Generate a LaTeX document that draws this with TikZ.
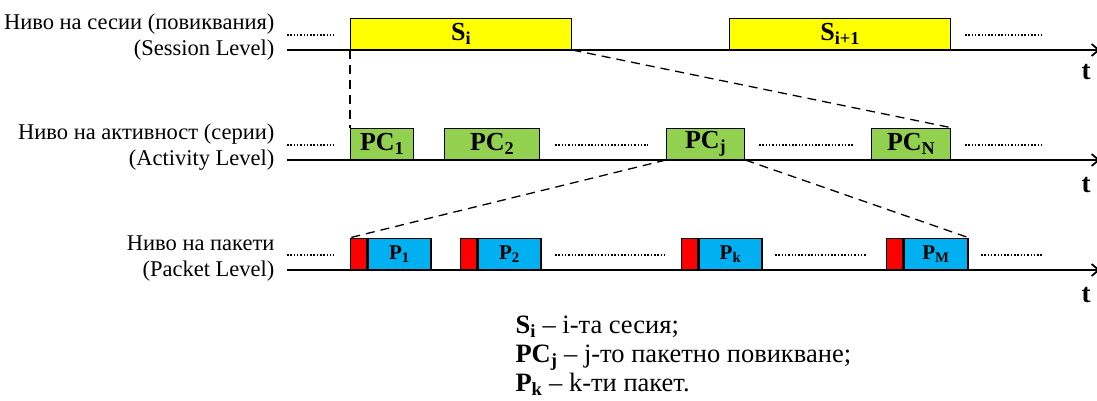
\documentclass[tikz,border=0pt]{standalone}
\usepackage{fontspec}
\setmainfont{Liberation Serif}
\usetikzlibrary{arrows.meta}
\definecolor{sessfill}{RGB}{255,255,0}
\definecolor{actfill}{RGB}{146,208,80}
\definecolor{pktfill}{RGB}{0,176,240}
\definecolor{hdrfill}{RGB}{255,0,0}
\tikzset{
  x=1pt, y=-1pt,
  box/.style={draw=black, line width=1.3pt, inner sep=0pt, anchor=south west,
    font=\fontsize{26}{26}\selectfont\bfseries},
  sessbox/.style={box, fill=sessfill, minimum height=31pt},
  actbox/.style={box, fill=actfill, minimum height=31pt},
  pktbox/.style={box, fill=pktfill, minimum height=31pt, minimum width=63pt,
    font=\fontsize{21}{21}\selectfont\bfseries},
  hdrbox/.style={box, fill=hdrfill, minimum height=31pt, minimum width=16pt},
  axis/.style={line width=1.8pt, -{Straight Barb[length=7pt,width=12pt]}},
  gap/.style={line width=1.2pt, dash pattern=on 1.5pt off 1.8pt},
  zoomline/.style={line width=1.3pt, dash pattern=on 9pt off 6pt},
  lvl/.style={anchor=east, align=right, font=\fontsize{22.5}{26}\selectfont},
  tlabel/.style={font=\fontsize{27}{27}\selectfont\bfseries, anchor=base},
  legend/.style={anchor=base west, font=\fontsize{26.5}{29}\selectfont}
}
\newcommand{\lab}[2]{#1\textsubscript{#2}}
\begin{document}
\begin{tikzpicture}
\useasboundingbox (0,0) rectangle (1097,401);

% ---- session level ----
\node[lvl] (lvS) at (278,37) {Ниво на сесии (повиквания)\\(Session Level)};
\coordinate (aS0) at (287,50);
\coordinate (aS1) at (1100,50);
\draw[axis] (aS0) -- (aS1);
\node[sessbox, minimum width=221pt] (Si) at (350,50) {\lab{S}{i}};
\node[sessbox, minimum width=221pt] (Si1) at (729,50) {\lab{S}{i+1}};
\coordinate (dS0a) at (287,35); \coordinate (dS0b) at (334,35);
\coordinate (dS1a) at (965,35); \coordinate (dS1b) at (1043,35);
\draw[gap] (dS0a) -- (dS0b);
\draw[gap] (dS1a) -- (dS1b);
\node[tlabel] (tS) at (1086,80) {t};

% ---- activity level ----
\node[lvl] (lvA) at (278,147) {Ниво на активност (серии)\\(Activity Level)};
\coordinate (aA0) at (287,160);
\coordinate (aA1) at (1100,160);
\draw[axis] (aA0) -- (aA1);
\node[actbox, minimum width=63pt] (PC1) at (350,160) {\lab{PC}{1}};
\node[actbox, minimum width=95pt] (PC2) at (444,160) {\lab{PC}{2}};
\node[actbox, minimum width=78pt] (PCj) at (666,160) {\lab{PC}{j}};
\node[actbox, minimum width=79pt] (PCN) at (871,160) {\lab{PC}{N}};
\coordinate (dA0a) at (287,145); \coordinate (dA0b) at (334,145);
\coordinate (dA1a) at (555,145); \coordinate (dA1b) at (648,145);
\coordinate (dA2a) at (759,145); \coordinate (dA2b) at (853,145);
\coordinate (dA3a) at (965,145); \coordinate (dA3b) at (1043,145);
\draw[gap] (dA0a) -- (dA0b);
\draw[gap] (dA1a) -- (dA1b);
\draw[gap] (dA2a) -- (dA2b);
\draw[gap] (dA3a) -- (dA3b);
\node[tlabel] (tA) at (1086,192) {t};

% ---- packet level ----
\node[lvl] (lvP) at (278,259) {Ниво на пакети\\(Packet Level)};
\coordinate (aP0) at (287,270);
\coordinate (aP1) at (1100,270);
\draw[axis] (aP0) -- (aP1);
\node[hdrbox] (H1) at (350,270) {};
\node[pktbox] (P1) at (H1.south east) {\lab{P}{1}};
\node[hdrbox] (H2) at (460,270) {};
\node[pktbox] (P2) at (H2.south east) {\lab{P}{2}};
\node[hdrbox] (Hk) at (681,270) {};
\node[pktbox] (Pk) at (Hk.south east) {\lab{P}{k}};
\node[hdrbox] (HM) at (886,270) {};
\node[pktbox, minimum width=64pt] (PM) at (HM.south east) {\lab{P}{M}};
\coordinate (dP0a) at (287,255); \coordinate (dP0b) at (334,255);
\coordinate (dP1a) at (555,255); \coordinate (dP1b) at (667,255);
\coordinate (dP2a) at (775,255); \coordinate (dP2b) at (867,255);
\coordinate (dP3a) at (981,255); \coordinate (dP3b) at (1043,255);
\draw[gap] (dP0a) -- (dP0b);
\draw[gap] (dP1a) -- (dP1b);
\draw[gap] (dP2a) -- (dP2b);
\draw[gap] (dP3a) -- (dP3b);
\node[tlabel] (tP) at (1086,302) {t};

% ---- zoom-in projections between levels ----
\draw[zoomline] (Si.south west) -- (PC1.north west);
\draw[zoomline] (Si.south east) -- (PCN.north east);
\draw[zoomline] (PCj.south west) -- (H1.north west);
\draw[zoomline] (PCj.south east) -- (PM.north east);

% ---- legend ----
\node[legend] (leg1) at (512,333) {\textbf{S\textsubscript{i}} – i-та сесия;};
\node[legend] (leg2) at (512,362) {\textbf{PC\textsubscript{j}} – j-то пакетно повикване;};
\node[legend] (leg3) at (512,391) {\textbf{P\textsubscript{k}} – k-ти пакет.};
\end{tikzpicture}
\end{document}
